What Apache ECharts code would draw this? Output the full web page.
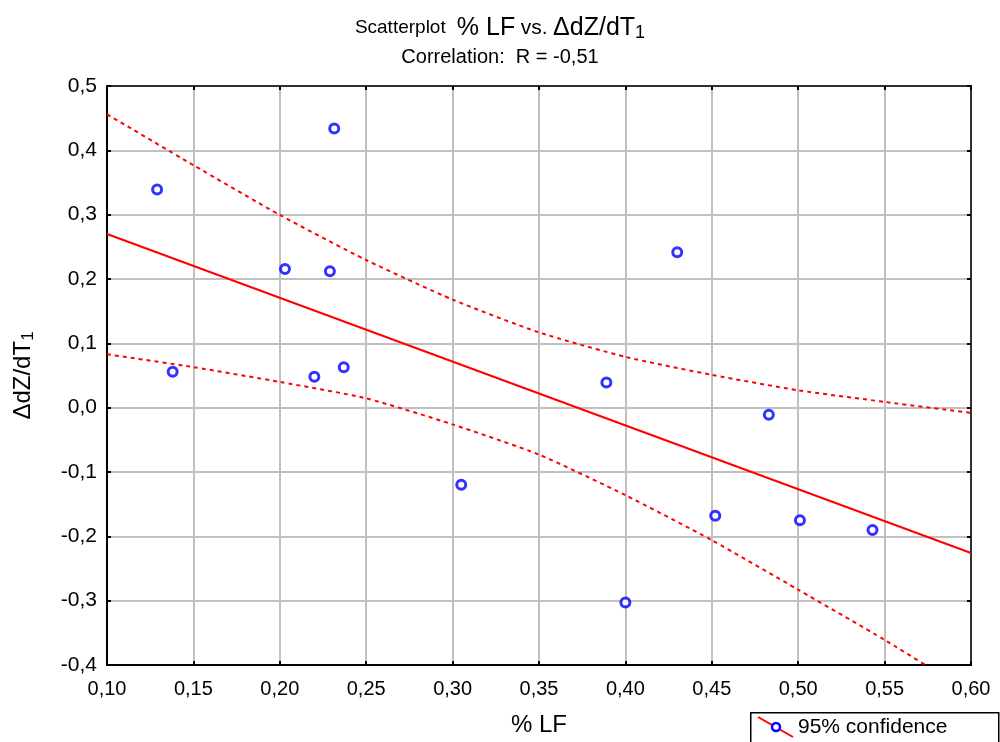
<!DOCTYPE html>
<html>
<head>
<meta charset="utf-8">
<script src="https://cdn.jsdelivr.net/npm/echarts@6/dist/echarts.min.js"></script>
<style>
html,body{margin:0;padding:0;background:#fff;}
#chart{width:1000px;height:742px;}
</style>
</head>
<body>
<div id="chart"></div>
<script>
// ---- data ----
const pointX = [0.129, 0.138, 0.203, 0.229, 0.2315, 0.220, 0.237, 0.305, 0.389, 0.430, 0.400, 0.452, 0.483, 0.501, 0.543];
const pointY = [0.339, 0.056, 0.2155, 0.212, 0.434, 0.048, 0.063, -0.120, 0.039, 0.2415, -0.303, -0.168, -0.011, -0.175, -0.190];
const fitX = [0.10, 0.60];
const fitY = [0.270, -0.226];
const bandX = [0.10, 0.15, 0.20, 0.25, 0.30, 0.35, 0.40, 0.45, 0.50, 0.55, 0.60];
const upperY = [0.456, 0.377, 0.2995, 0.2295, 0.168, 0.117, 0.079, 0.051, 0.027, 0.009, -0.008];
const lowerY = [0.083, 0.063, 0.040, 0.0145, -0.026, -0.073, -0.136, -0.206, -0.283, -0.361, -0.444];
const xTicks = {min: 0.10, max: 0.60, step: 0.05};
const yTicks = {min: -0.4, max: 0.5, step: 0.1};
const legendLabel = '95% confidence';

const FONT = '"Liberation Sans", Arial, sans-serif';
const zip = (a, b) => a.map((v, i) => [v, b[i]]);
const fmt = (d) => (v) => { if (Math.abs(v) < 1e-9) v = 0; return v.toFixed(d).replace('.', ','); };

const chart = echarts.init(document.getElementById('chart'), null, {renderer: 'canvas'});
const tickCfg = {show: true, inside: true, length: 4, lineStyle: {color: '#000', width: 2}};
const tok = (size, lh, va) => ({fontFamily: FONT, fontSize: size, fontWeight: 'normal', color: '#000', lineHeight: lh, verticalAlign: va});
const option = {
  backgroundColor: '#fff',
  animation: false,
  title: [
    {
      left: 'center', top: 9,
      text: '{a|Scatterplot}  {b|% LF} {c|vs.} {b|ΔdZ/dT}{s|1}',
      textStyle: {
        fontWeight: 'normal', fontFamily: FONT, fontSize: 20, color: '#000',
        rich: {a: tok(19, 28, 'middle'), b: tok(25, 28, 'middle'), c: tok(21, 28, 'middle'), s: tok(18, 14, 'bottom')}
      }
    },
    {
      left: 'center', top: 42,
      text: 'Correlation:  R = -0,51',
      textStyle: {fontFamily: FONT, fontSize: 20, fontWeight: 'normal', color: '#000'}
    }
  ],
  grid: {left: 107, right: 29, top: 86, bottom: 77, show: true, borderColor: '#000', borderWidth: 1.5, backgroundColor: '#fff'},
  xAxis: [
    {
      type: 'value', min: xTicks.min, max: xTicks.max, interval: xTicks.step,
      name: '% LF', nameLocation: 'middle', nameGap: 48,
      nameTextStyle: {fontFamily: FONT, fontSize: 24, color: '#000'},
      axisLine: {show: true, onZero: false, lineStyle: {color: '#000', width: 2}},
      axisTick: tickCfg,
      axisLabel: {formatter: fmt(2), fontFamily: FONT, fontSize: 20, color: '#000', margin: 14},
      splitLine: {show: true, lineStyle: {color: '#c0c0c0', width: 2}}
    },
    {
      type: 'value', position: 'top', min: xTicks.min, max: xTicks.max, interval: xTicks.step,
      axisLine: {show: true, onZero: false, lineStyle: {color: '#000', width: 1.5}},
      axisTick: tickCfg, axisLabel: {show: false}, splitLine: {show: false}
    }
  ],
  yAxis: [
    {
      type: 'value', min: yTicks.min, max: yTicks.max, interval: yTicks.step,
      name: '{m|ΔdZ/dT}{s|1}', nameLocation: 'middle', nameGap: 70, nameRotate: 90,
      nameTextStyle: {
        rich: {m: tok(24, 28, 'middle'), s: tok(17, 14, 'bottom')}
      },
      axisLine: {show: true, onZero: false, lineStyle: {color: '#000', width: 2}},
      axisTick: tickCfg,
      axisLabel: {formatter: fmt(1), fontFamily: FONT, fontSize: 21, color: '#000', margin: 10},
      splitLine: {show: true, lineStyle: {color: '#c0c0c0', width: 2}}
    },
    {
      type: 'value', position: 'right', min: yTicks.min, max: yTicks.max, interval: yTicks.step,
      axisLine: {show: true, onZero: false, lineStyle: {color: '#000', width: 1.5}},
      axisTick: tickCfg, axisLabel: {show: false}, splitLine: {show: false}
    }
  ],
  series: [
    {
      type: 'line', data: zip(bandX, upperY), showSymbol: false, smooth: 0.2, clip: true,
      lineStyle: {color: '#ff0000', width: 2, type: [4, 4]}, silent: true, z: 3
    },
    {
      type: 'line', data: zip(bandX, lowerY), showSymbol: false, smooth: 0.2, clip: true,
      lineStyle: {color: '#ff0000', width: 2, type: [4, 4]}, silent: true, z: 3
    },
    {
      type: 'line', data: zip(fitX, fitY), showSymbol: false, clip: true,
      lineStyle: {color: '#ff0000', width: 2}, silent: true, z: 3
    },
    {
      name: legendLabel, type: 'scatter', data: zip(pointX, pointY),
      symbol: 'circle', symbolSize: 9,
      itemStyle: {color: '#fff', borderColor: '#0000ff', borderWidth: 3}, z: 5
    }
  ],
  graphic: [
    {type: 'rect', left: 750, top: 712, shape: {width: 248, height: 40}, style: {fill: '#fff', stroke: '#000', lineWidth: 1.5}, z: 10},
    {type: 'line', shape: {x1: 758, y1: 717, x2: 793, y2: 737}, style: {stroke: '#ff0000', lineWidth: 2}, z: 11},
    {type: 'circle', shape: {cx: 776, cy: 727, r: 4}, style: {fill: '#fff', stroke: '#0000ff', lineWidth: 2.5}, z: 12},
    {type: 'text', x: 798, y: 727, style: {text: legendLabel, fontFamily: FONT, fontSize: 21, fill: '#000', verticalAlign: 'middle'}, z: 12}
  ]
};
chart.setOption(option);
</script>
</body>
</html>
